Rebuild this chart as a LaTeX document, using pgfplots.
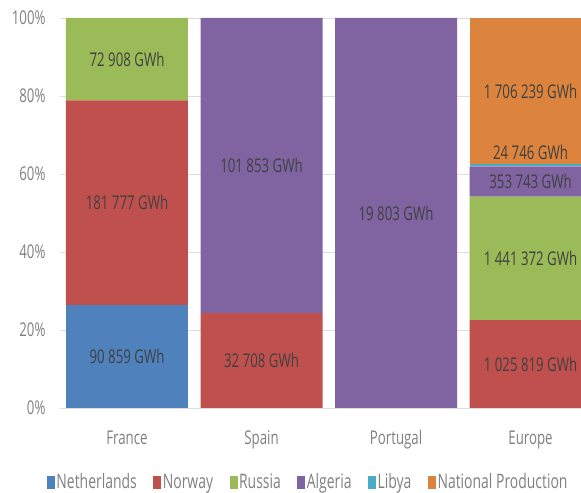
\documentclass[border=0pt]{standalone}
\usepackage{pgfplots}
\pgfplotsset{compat=1.18}
\usepackage{fontspec}
\setmainfont{Open Sans}[FakeStretch=0.7]
\definecolor{cNeth}{HTML}{4F81BD}
\definecolor{cNorw}{HTML}{C0504D}
\definecolor{cRuss}{HTML}{9BBB59}
\definecolor{cAlge}{HTML}{8064A2}
\definecolor{cLiby}{HTML}{4BACC6}
\definecolor{cNatP}{HTML}{DC843E}
\definecolor{labtext}{HTML}{404040}
\definecolor{ticktext}{HTML}{808080}
\definecolor{gridc}{HTML}{DEDEDE}
\newcommand{\chartfont}{\fontsize{19}{22}\selectfont}
\newcommand{\legfont}{\fontsize{20}{23}\selectfont}
\pgfplotsset{
  commonaxis/.style={
    at={(60bp,85bp)}, anchor=south west,
    scale only axis, width=521bp, height=390bp,
    xmin=-0.498, xmax=3.375, ymin=0, ymax=100,
  }
}
\begin{document}
\begin{tikzpicture}
\begin{axis}[
  commonaxis,
  ybar stacked, bar width=0.907,
  axis line style={draw=none},
  major tick length=0pt,
  /pgf/number format/assume math mode=true,
  ymajorgrids, grid style={draw=gridc, line width=0.8bp},
  ytick={0,20,40,60,80,100},
  yticklabel={\pgfmathprintnumber{\tick}\%},
  yticklabel style={font=\chartfont, text=ticktext, xshift=-11bp},
  xtick={0,1,2,3},
  xticklabels={France,Spain,Portugal,Europe},
  xticklabel style={font=\chartfont, text=ticktext, yshift=-19bp},
  legend columns=-1,
  legend style={at={(0.476,-0.19)}, anchor=center, draw=none, fill=none,
     font=\legfont, text=ticktext,
     nodes={inner sep=1.5bp},
     /tikz/every even column/.append style={column sep=15bp}},
  legend image code/.code={\fill[#1] (0bp,-6.5bp) rectangle (8bp,6.5bp);},
]
\addplot[fill=cNeth, draw=none] coordinates {(0,26.29) (1,0) (2,0) (3,0)};
\addlegendentry{Netherlands}
\addplot[fill=cNorw, draw=none] coordinates {(0,52.61) (1,24.31) (2,0) (3,22.54)};
\addlegendentry{Norway}
\addplot[fill=cRuss, draw=none] coordinates {(0,21.10) (1,0) (2,0) (3,31.66)};
\addlegendentry{Russia}
\addplot[fill=cAlge, draw=none] coordinates {(0,0) (1,75.69) (2,100) (3,7.77)};
\addlegendentry{Algeria}
\addplot[fill=cLiby, draw=none] coordinates {(0,0) (1,0) (2,0) (3,0.54)};
\addlegendentry{Libya}
\addplot[fill=cNatP, draw=none] coordinates {(0,0) (1,0) (2,0) (3,37.49)};
\addlegendentry{National Production}
\end{axis}
% value labels, at the centre of each segment
\begin{axis}[
  commonaxis, axis lines=none, clip=false,
  point meta=explicit symbolic,
  nodes near coords,
  every node near coord/.append style={anchor=center, font=\chartfont, text=labtext},
]
\addplot[draw=none, mark=none] coordinates {
  (0,13.15) [90 859 GWh]
  (0,52.60) [181 777 GWh]
  (0,89.45) [72 908 GWh]
  (1,12.16) [32 708 GWh]
  (1,62.16) [101 853 GWh]
  (2,50.00) [19 803 GWh]
  (3,11.27) [1 025 819 GWh]
  (3,38.37) [1 441 372 GWh]
  (3,58.09) [353 743 GWh]
  (3,65.60) [24 746 GWh]
  (3,81.26) [1 706 239 GWh]
};
\end{axis}
\pgfresetboundingbox
\path[use as bounding box] (0,0) rectangle (581bp,493bp);
\end{tikzpicture}
\end{document}
